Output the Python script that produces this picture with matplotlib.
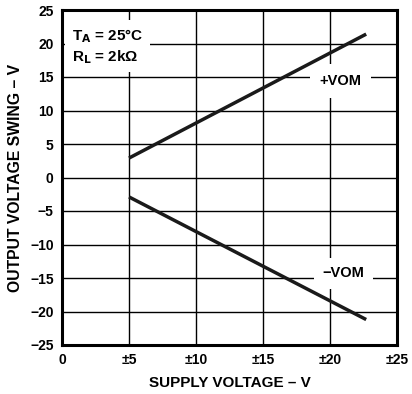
import matplotlib
matplotlib.use("Agg")
import matplotlib.pyplot as plt

supply = [5, 22.7]
vom_pos = [2.9, 21.4]
vom_neg = [-2.9, -21.2]
xticks = [0, 5, 10, 15, 20, 25]
xticklabels = ["0", "±5", "±10", "±15", "±20", "±25"]
yticks = [-25, -20, -15, -10, -5, 0, 5, 10, 15, 20, 25]
yticklabels = ["−25", "−20", "−15", "−10", "−5", "0", "5", "10", "15", "20", "25"]

plt.rcParams['font.family'] = ['Liberation Sans', 'DejaVu Sans']
plt.rcParams['font.weight'] = 'bold'

fig = plt.figure(figsize=(4.12, 3.94), dpi=100)
ax = fig.add_axes([62/412, 1-345/394, 335/412, 335/394])
ax.set_xlim(0, 25)
ax.set_ylim(-25, 25)
ax.set_xticks(xticks)
ax.set_xticklabels(xticklabels, fontsize=10, fontweight='bold')
ax.set_yticks(yticks)
ax.set_yticklabels(yticklabels, fontsize=10, fontweight='bold')
ax.tick_params(length=0, pad=6)
ax.grid(True, color='black', linewidth=1.0)
for s in ax.spines.values():
    s.set_linewidth(2.2)

ax.plot(supply, vom_pos, color='#1a1a1a', linewidth=2.5, solid_capstyle='butt', zorder=5)
ax.plot(supply, vom_neg, color='#1a1a1a', linewidth=2.5, solid_capstyle='butt', zorder=5)

ax.text(20.8, 14.4, "+VOM", ha='center', va='center', fontsize=10.5, fontweight='bold',
        bbox=dict(facecolor='white', edgecolor='none', pad=7), zorder=4)
ax.text(21.0, -14.3, "−VOM", ha='center', va='center', fontsize=10.5, fontweight='bold',
        bbox=dict(facecolor='white', edgecolor='none', pad=6), zorder=4)
ax.text(0.75, 19.6, "T$_\\mathbf{A}$ = 25°C\nR$_\\mathbf{L}$ = 2kΩ", ha='left', va='center', fontsize=11,
        fontweight='bold', linespacing=1.25,
        bbox=dict(facecolor='white', edgecolor='none', pad=5), zorder=4)

ax.set_xlabel("SUPPLY VOLTAGE – V", fontsize=11, fontweight='bold', labelpad=6)
ax.set_ylabel("OUTPUT VOLTAGE SWING – V", fontsize=11.3, fontweight='bold', labelpad=5)

fig.savefig("out.png", dpi=100)
